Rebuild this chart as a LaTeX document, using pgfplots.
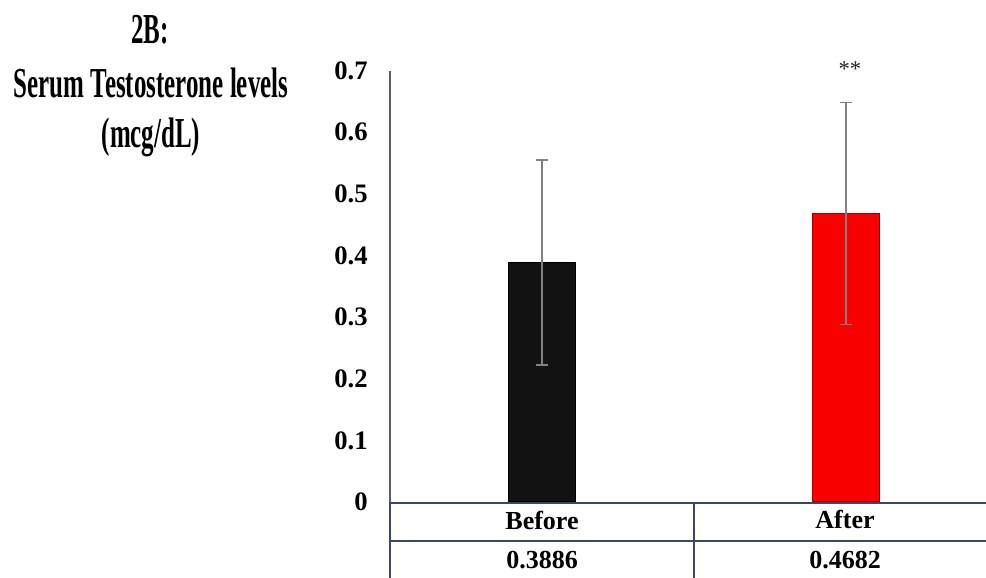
\documentclass[border=0pt]{standalone}
\usepackage{fontspec}
\setmainfont{Liberation Serif}
\newfontfamily\condfont[FakeStretch=0.585]{Liberation Serif}
\usepackage{pgfplots}
\pgfplotsset{compat=1.18}
\definecolor{tline}{RGB}{60,70,105}
\definecolor{axgray}{RGB}{95,95,95}
\definecolor{errgray}{RGB}{130,130,130}
\definecolor{barred}{RGB}{250,0,0}
\definecolor{barblack}{RGB}{18,18,18}
\begin{document}
\begin{tikzpicture}
% picture area: 986 x 578 px, 1px = 0.75pt
\useasboundingbox (0,0) rectangle (739.5pt,-433.5pt);
\clip (0,0) rectangle (739.5pt,-433.5pt);
\begin{scope}[x=0.75pt,y=-0.75pt]
  \node[font=\condfont\bfseries\fontsize{32}{36}\selectfont, anchor=base, inner sep=0pt] at (150,43) {2B:};
  \node[font=\condfont\bfseries\fontsize{32}{36}\selectfont, anchor=base, inner sep=0pt] at (151,97) {Serum Testosterone levels};
  \node[font=\condfont\bfseries\fontsize{32}{36}\selectfont, anchor=base, inner sep=0pt] at (151,147) {(mcg/dL)};
\end{scope}
\begin{axis}[
  at={(292.5pt,-376.5pt)}, anchor=south west,
  scale only axis,
  width=456pt, height=323.6pt,
  xmin=-0.5, xmax=1.5, ymin=0, ymax=0.7,
  axis line style={draw=none},
  xtick=\empty,
  ytick={0,0.1,0.2,0.3,0.4,0.5,0.6,0.7},
  ytick style={draw=none},
  /pgf/number format/assume math mode=true,
  /pgf/number format/fixed,
  yticklabel style={font=\bfseries\fontsize{20}{22}\selectfont, inner sep=0pt, xshift=-16.5pt},
  clip=false,
]
\addplot[ybar, bar shift=0pt, bar width=50.25pt, fill=barblack, draw=black, line width=1pt,
  error bars/.cd, y dir=both, y explicit,
  error bar style={errgray, line width=1.2pt},
  error mark options={errgray, rotate=90, mark size=4.5pt, line width=1.2pt}]
  coordinates {(0,0.3886) +- (0,0.166)};
\addplot[ybar, bar shift=0pt, bar width=50.25pt, fill=barred, draw=barred!65!black, line width=1pt,
  error bars/.cd, y dir=both, y explicit,
  error bar style={errgray, line width=1.2pt},
  error mark options={errgray, rotate=90, mark size=4.5pt, line width=1.2pt}]
  coordinates {(1,0.4682) +- (0,0.18)};
\draw[axgray, line width=1.3pt] (rel axis cs:0,0) -- (rel axis cs:0,1);
\node[font=\fontsize{17}{20}\selectfont, text=black!85, anchor=base, inner sep=0pt] at (axis cs:1.013,0.69) {**};
\end{axis}
\begin{scope}[x=0.75pt,y=-0.75pt]
  \draw[tline, line width=1.5pt] (389,502.5) -- (1000,502.5);
  \draw[tline, line width=2pt] (389,541) -- (1000,541);
  \draw[tline, line width=1.5pt] (389.5,502) -- (389.5,590);
  \draw[tline, line width=1.5pt] (693.5,502) -- (693.5,590);
  \begin{scope}[every node/.style={font=\bfseries\fontsize{19.5}{22}\selectfont, anchor=base, inner sep=0pt}]
    \node at (542,529) {Before};
    \node at (845,528) {After};
    \node at (542,568) {0.3886};
    \node at (845,568) {0.4682};
  \end{scope}
\end{scope}
\end{tikzpicture}
\end{document}
